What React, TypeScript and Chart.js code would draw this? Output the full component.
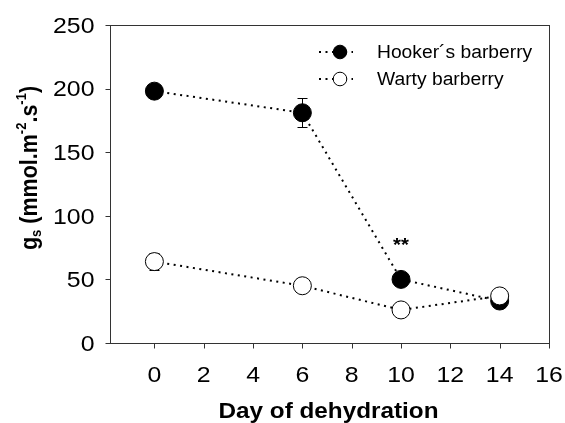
import React, { useEffect, useRef } from "react";
import { Chart, registerables } from "chart.js";

Chart.register(...registerables);

// ---- data ----
const DAYS = [0, 6, 10, 14];
const HOOKER = [198, 181, 50, 33];
const HOOKER_ERR = [0, 11.5, 0, 0];
const WARTY = [64, 45, 26, 37];
const WARTY_ERR = [7, 0, 0, 0];
const SERIES_NAMES = ["Hooker´s barberry", "Warty barberry"];
const X_TICKS = [0, 2, 4, 6, 8, 10, 12, 14, 16];
const Y_TICKS = [0, 50, 100, 150, 200, 250];
const X_MIN = -1.8;
const X_MAX = 16;
const Y_MIN = 0;
const Y_MAX = 250;
const SIG_X = [10];
const SIG_Y = [72];
const SIG_TEXT = ["**"];
const X_TITLE = "Day of dehydration";

// ---- style ----
const FONT = "'Liberation Sans', Arial, sans-serif";
const STRETCH = 1.13;
const AXIS_COLOR = "#333";

function stretchedText(ctx: CanvasRenderingContext2D, text: string, x: number, y: number, align: CanvasTextAlign) {
  ctx.save();
  ctx.translate(x, y);
  ctx.scale(STRETCH, 1);
  ctx.textAlign = align;
  ctx.textBaseline = "alphabetic";
  ctx.fillText(text, 0, 0);
  ctx.restore();
}

const errorBarPlugin = {
  id: "errorBars",
  beforeDatasetsDraw(chart: any) {
    const ctx = chart.ctx as CanvasRenderingContext2D;
    const xs = chart.scales.x;
    const ys = chart.scales.y;
    const sets = [
      { v: HOOKER, e: HOOKER_ERR },
      { v: WARTY, e: WARTY_ERR },
    ];
    ctx.save();
    ctx.strokeStyle = "#000";
    ctx.lineWidth = 1;
    for (const s of sets) {
      s.v.forEach((val, i) => {
        const err = s.e[i];
        if (!err) return;
        const px = Math.round(xs.getPixelForValue(DAYS[i])) + 0.5;
        const top = ys.getPixelForValue(val + err);
        const bot = ys.getPixelForValue(val - err);
        ctx.beginPath();
        ctx.moveTo(px, top);
        ctx.lineTo(px, bot);
        ctx.moveTo(px - 5, Math.round(top) + 0.5);
        ctx.lineTo(px + 5, Math.round(top) + 0.5);
        ctx.moveTo(px - 5, Math.round(bot) + 0.5);
        ctx.lineTo(px + 5, Math.round(bot) + 0.5);
        ctx.stroke();
      });
    }
    ctx.restore();
  },
};

const decorPlugin = {
  id: "decor",
  afterDraw(chart: any) {
    const ctx = chart.ctx as CanvasRenderingContext2D;
    const ca = chart.chartArea;
    const xs = chart.scales.x;
    const ys = chart.scales.y;
    ctx.save();
    // frame
    ctx.strokeStyle = AXIS_COLOR;
    ctx.lineWidth = 1;
    const L = Math.round(ca.left) + 0.5;
    const R = Math.round(ca.right) + 0.5;
    const T = Math.round(ca.top) + 0.5;
    const B = Math.round(ca.bottom) + 0.5;
    ctx.strokeRect(L, T, R - L, B - T);
    // ticks
    ctx.beginPath();
    for (const v of Y_TICKS) {
      const py = Math.round(ys.getPixelForValue(v)) + 0.5;
      ctx.moveTo(L - 5, py);
      ctx.lineTo(L, py);
    }
    for (const v of X_TICKS) {
      const px = Math.round(xs.getPixelForValue(v)) + 0.5;
      ctx.moveTo(px, B);
      ctx.lineTo(px, B + 5);
    }
    ctx.stroke();

    // tick labels
    ctx.fillStyle = "#000";
    ctx.font = `22px ${FONT}`;
    for (const v of Y_TICKS) {
      const py = ys.getPixelForValue(v);
      stretchedText(ctx, String(v), L - 16, py + 22 * 0.358, "right");
    }
    for (const v of X_TICKS) {
      const px = xs.getPixelForValue(v);
      stretchedText(ctx, String(v), px, B + 38, "center");
    }

    // x title
    ctx.font = `bold 21.5px ${FONT}`;
    stretchedText(ctx, X_TITLE, (ca.left + ca.right) / 2 - 1, 418, "center");

    // y title with sub/superscripts
    const segs = [
      { t: "g", s: 21.5, dy: 0 },
      { t: "s", s: 13, dy: 4 },
      { t: " (mmol.m", s: 21.5, dy: 0 },
      { t: "-2", s: 13, dy: -9 },
      { t: ".s", s: 21.5, dy: 0 },
      { t: "-1", s: 13, dy: -9 },
      { t: ")", s: 21.5, dy: 0 },
    ];
    let total = 0;
    for (const sg of segs) {
      ctx.font = `bold ${sg.s}px ${FONT}`;
      total += ctx.measureText(sg.t).width;
    }
    ctx.save();
    ctx.translate(36.5, 168);
    ctx.rotate(-Math.PI / 2);
    ctx.scale(1, STRETCH);
    ctx.textAlign = "left";
    ctx.textBaseline = "alphabetic";
    let cx = -total / 2;
    for (const sg of segs) {
      ctx.font = `bold ${sg.s}px ${FONT}`;
      ctx.fillText(sg.t, cx, sg.dy);
      cx += ctx.measureText(sg.t).width;
    }
    ctx.restore();

    // significance marks
    ctx.font = `bold 18px ${FONT}`;
    SIG_X.forEach((x, i) => {
      stretchedText(ctx, SIG_TEXT[i], xs.getPixelForValue(x), ys.getPixelForValue(SIG_Y[i]), "center");
    });

    // legend
    const rows = [
      { name: SERIES_NAMES[0], fill: "#000", y: 52 },
      { name: SERIES_NAMES[1], fill: "#fff", y: 79 },
    ];
    for (const r of rows) {
      ctx.save();
      ctx.strokeStyle = "#000";
      ctx.lineWidth = 2;
      ctx.setLineDash([2, 4.5]);
      ctx.beginPath();
      ctx.moveTo(319, r.y);
      ctx.lineTo(353, r.y);
      ctx.stroke();
      ctx.restore();
      ctx.beginPath();
      ctx.arc(340, r.y, 6.8, 0, Math.PI * 2);
      ctx.fillStyle = r.fill;
      ctx.fill();
      ctx.lineWidth = 1;
      ctx.strokeStyle = "#000";
      ctx.stroke();
      ctx.fillStyle = "#000";
      ctx.font = `18px ${FONT}`;
      ctx.save();
      ctx.translate(377, r.y + 18 * 0.358);
      ctx.scale(1.07, 1);
      ctx.textAlign = "left";
      ctx.fillText(r.name, 0, 0);
      ctx.restore();
    }
    ctx.restore();
  },
};

export default function App() {
  const ref = useRef<HTMLCanvasElement>(null);
  useEffect(() => {
    if (!ref.current) return;
    const mk = (vals: number[]) => vals.map((v, i) => ({ x: DAYS[i], y: v }));
    const chart = new Chart(ref.current, {
      type: "line",
      data: {
        datasets: [
          {
            label: SERIES_NAMES[0],
            data: mk(HOOKER),
            borderColor: "#000",
            borderWidth: 2,
            borderDash: [2, 4.5],
            pointRadius: 9,
            pointBackgroundColor: "#000",
            pointBorderColor: "#000",
            pointBorderWidth: 1,
            order: 1,
          },
          {
            label: SERIES_NAMES[1],
            data: mk(WARTY),
            borderColor: "#000",
            borderWidth: 2,
            borderDash: [2, 4.5],
            pointRadius: 9,
            pointBackgroundColor: "#fff",
            pointBorderColor: "#000",
            pointBorderWidth: 1,
            order: 0,
          },
        ],
      },
      options: {
        responsive: false,
        animation: false,
        layout: { padding: { left: 110, right: 16, top: 25, bottom: 80 } },
        scales: {
          x: { type: "linear", display: false, min: X_MIN, max: X_MAX },
          y: { type: "linear", display: false, min: Y_MIN, max: Y_MAX },
        },
        plugins: {
          legend: { display: false },
          tooltip: { enabled: false },
        },
      },
      plugins: [errorBarPlugin, decorPlugin],
    });
    return () => chart.destroy();
  }, []);
  return (
    <div style={{ position: "fixed", left: 0, top: 0, width: 565, height: 423, background: "#fff" }}>
      <canvas ref={ref} width={565} height={423} />
    </div>
  );
}
